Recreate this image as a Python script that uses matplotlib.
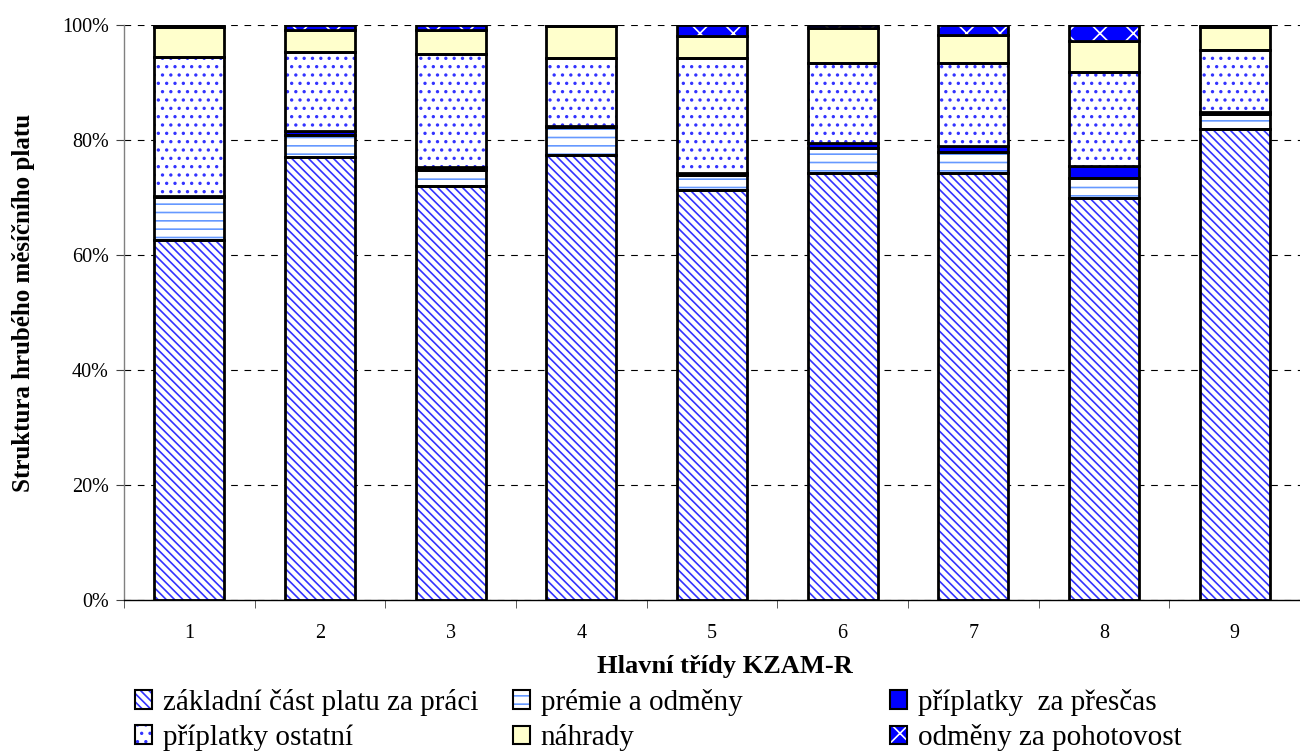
import matplotlib.pyplot as plt
import numpy as np
from matplotlib.patches import Patch
from matplotlib.legend_handler import HandlerTuple

plt.rcParams['font.family'] = ['Liberation Serif', 'DejaVu Serif']
plt.rcParams['hatch.linewidth'] = 1.2

trida = ['1', '2', '3', '4', '5', '6', '7', '8', '9']

zakladni = [62.6, 77.0, 72.0, 77.4, 71.3, 74.3, 74.3, 69.9, 81.9]
premie = [7.5, 3.9, 2.8, 4.8, 2.6, 4.3, 3.6, 3.5, 2.6]
prescas = [0.2, 0.6, 0.5, 0.3, 0.4, 0.9, 1.1, 2.1, 0.4]
ostatni = [24.2, 13.8, 19.7, 11.8, 20.0, 13.9, 14.4, 16.3, 10.8]
nahrady = [5.2, 3.8, 4.1, 5.5, 3.8, 6.1, 4.9, 5.4, 4.0]
pohotovost = [0.3, 0.9, 0.9, 0.2, 1.9, 0.5, 1.7, 2.8, 0.3]

series = [
    ('základní část platu za práci', zakladni, 'white', '#3333ff', '\\\\\\\\'),
    ('prémie a odměny', premie, 'white', '#6699ff', '--'),
    ('příplatky  za přesčas', prescas, '#0000ff', None, None),
    ('příplatky ostatní', ostatni, 'white', '#3333ff', '..'),
    ('náhrady', nahrady, '#ffffcc', None, None),
    ('odměny za pohotovost', pohotovost, '#0000ff', 'white', 'x'),
]

fig = plt.figure(figsize=(13, 7.51), dpi=100)
ax = fig.add_axes([0.0954, 0.201, 0.9046, 0.7657])

x = np.arange(1, len(trida) + 1)
w = 0.535
bottom = np.zeros(len(trida))
handles = []
for name, vals, fc, hc, hatch in series:
    vals = np.array(vals)
    if hatch:
        ax.bar(x, vals, w, bottom=bottom, color=fc, edgecolor=hc, hatch=hatch,
               linewidth=0, zorder=2)
        ax.bar(x, vals, w, bottom=bottom, facecolor='none', edgecolor='black',
               linewidth=2.0, zorder=3)
        h = (Patch(facecolor=fc, edgecolor=hc, hatch=hatch, linewidth=0),
             Patch(facecolor='none', edgecolor='black', linewidth=1.5))
    else:
        ax.bar(x, vals, w, bottom=bottom, color=fc, edgecolor='black',
               linewidth=2.0, zorder=2)
        h = Patch(facecolor=fc, edgecolor='black', linewidth=1.5)
    handles.append(h)
    bottom += vals

ax.set_xlim(0.5, 9.5)
ax.set_ylim(0, 100)
ax.set_yticks(np.arange(0, 101, 20))
ax.set_yticklabels([f'{v}%' for v in range(0, 101, 20)], fontsize=14.5)
ax.set_xticks(x)
ax.set_xticklabels(trida, fontsize=14.5)
ax.set_xticks(np.arange(0.5, 10, 1), minor=True)
ax.tick_params(axis='x', which='major', length=0, pad=17)
ax.tick_params(axis='x', which='minor', length=6, direction='out', color='#404040')
ax.tick_params(axis='y', length=6, direction='out', pad=5, color='#404040')
for s in ['top', 'right']:
    ax.spines[s].set_visible(False)
ax.spines['left'].set_color('#808080')
ax.spines['left'].set_linewidth(1.0)
ax.spines['bottom'].set_linewidth(1.0)
ax.yaxis.grid(True, color='black', linestyle=(0, (6, 6)), linewidth=0.8, zorder=0)
ax.set_axisbelow(True)

fig.text(0.5577, 0.112, 'Hlavní třídy KZAM-R', ha='center', va='center',
         fontsize=19, fontweight='bold')
fig.text(0.0177, 0.5965, 'Struktura hrubého měsíčního platu', ha='center',
         va='center', rotation=90, fontsize=18, fontweight='bold')

cols = [(0.1038, [0, 3]), (0.3946, [1, 4]), (0.6846, [2, 5])]
for xpos, idx in cols:
    fig.legend([handles[i] for i in idx], [series[i][0] for i in idx],
               loc='upper left', bbox_to_anchor=(xpos, 0.083),
               frameon=False, fontsize=21, handlelength=0.6,
               handleheight=0.6, handletextpad=0.35, labelspacing=0.3,
               borderaxespad=0, borderpad=0,
               handler_map={tuple: HandlerTuple(ndivide=1, pad=0)})

fig.savefig('out.png', dpi=100)
